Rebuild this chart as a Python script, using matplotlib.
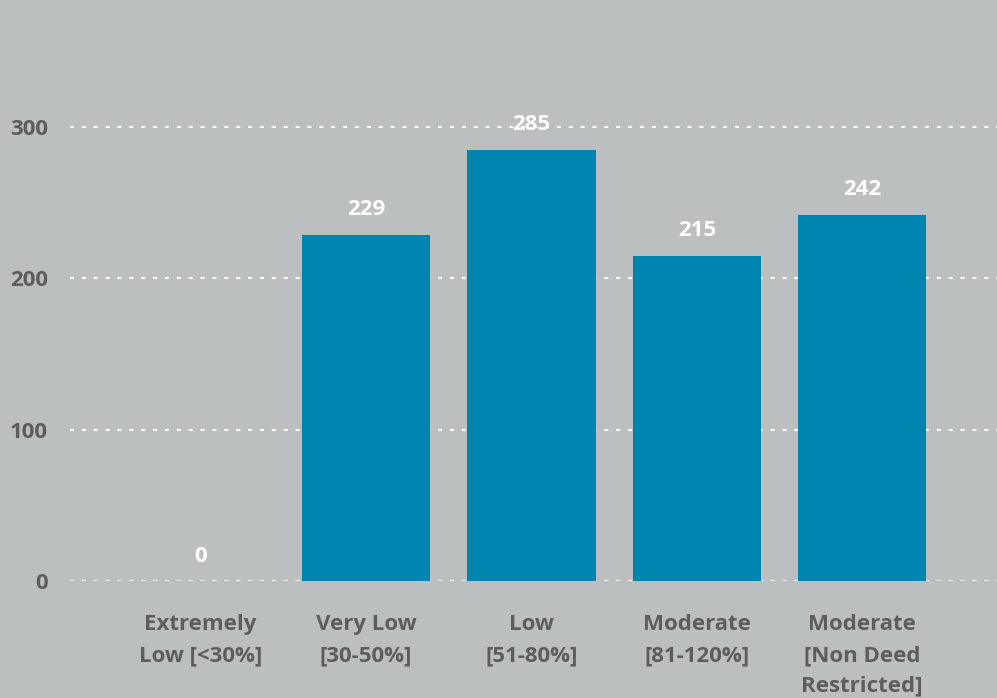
import matplotlib.pyplot as plt

# Units by income category
categories = ['Extremely\nLow [<30%]', 'Very Low\n[30-50%]', 'Low\n[51-80%]',
              'Moderate\n[81-120%]', 'Moderate\n[Non Deed\nRestricted]']
units = [0, 229, 285, 215, 242]
yticks = [0, 100, 200, 300]

bg = '#bcbfc0'
bar_color = '#0084b0'
text_grey = '#5f5d5b'

plt.rcParams['font.family'] = ['Open Sans', 'DejaVu Sans']
plt.rcParams['font.weight'] = 'bold'

fig = plt.figure(figsize=(9.97, 6.98), dpi=100, facecolor=bg)
ax = fig.add_axes([70 / 997, 1 - 581 / 698, 1 - 70 / 997, 581 / 698])
ax.set_facecolor(bg)

x = range(len(categories))
bars = ax.bar(x, units, width=0.775, color=bar_color, zorder=2)

for b, v in zip(bars, units):
    ax.annotate(str(v), (b.get_x() + b.get_width() / 2, v),
                xytext=(0, 18), textcoords='offset points',
                ha='center', va='center', color='white',
                fontsize=16, fontweight='bold', zorder=3)

ax.set_xlim(-0.79, 4.815)
ax.set_ylim(0, 384)
ax.set_yticks(yticks)
ax.set_yticklabels([str(t) for t in yticks], fontsize=16, color=text_grey, fontweight='bold')
ax.set_xticks(list(x))
ax.set_xticklabels(categories, fontsize=16, color=text_grey, fontweight='bold',
                   linespacing=1.6, va='top')

ax.grid(axis='y', color='white', linestyle=(0, (1.9, 3.8)), linewidth=1.5, zorder=1)
ax.tick_params(axis='both', length=0)
ax.tick_params(axis='x', pad=24)
ax.tick_params(axis='y', pad=16)
for s in ax.spines.values():
    s.set_visible(False)

fig.savefig('out.png', dpi=100, facecolor=bg)
